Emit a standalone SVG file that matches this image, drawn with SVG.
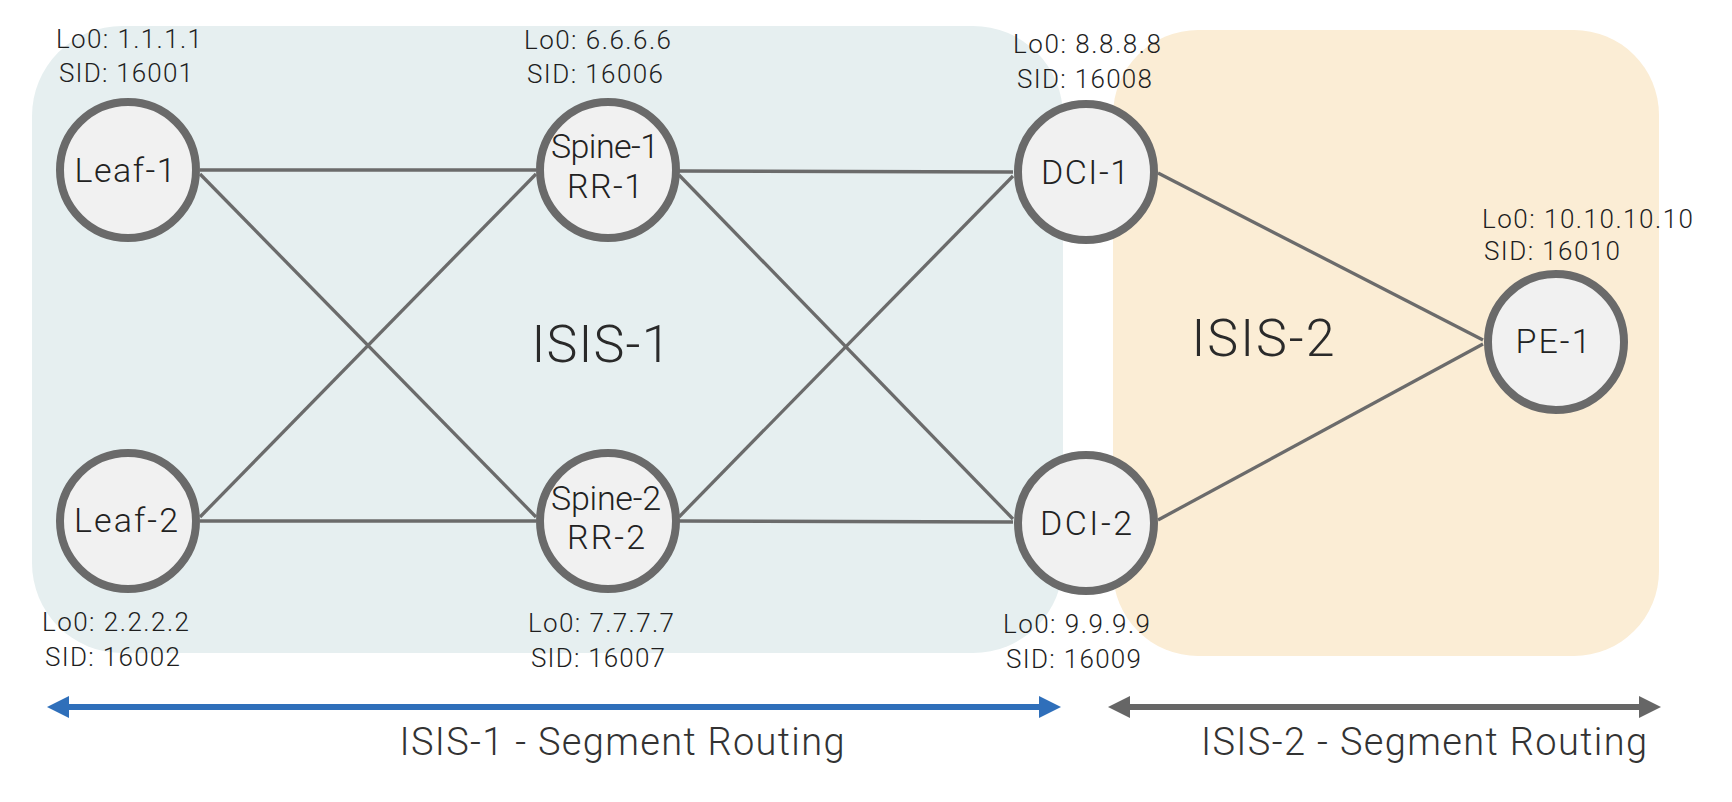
<svg xmlns="http://www.w3.org/2000/svg" width="1732" height="802" viewBox="0 0 1732 802">
<defs>
<style>
.region1{fill:#e6eff0}
.region2{fill:#fbedd5}
.node circle{fill:#f1f1f1;stroke:#6a6a6a;stroke-width:8}
.lbl{font-family:Roboto,"Liberation Sans",Arial,sans-serif;font-weight:300;fill:#222;font-size:34px;text-anchor:middle}
.small{font-family:Roboto,"Liberation Sans",Arial,sans-serif;font-weight:300;fill:#1e1e1e;font-size:26px}
.big{font-family:Roboto,"Liberation Sans",Arial,sans-serif;font-weight:300;fill:#2a2a2a;font-size:52px;text-anchor:middle}
.foot{font-family:Roboto,"Liberation Sans",Arial,sans-serif;font-weight:300;fill:#333;font-size:38px;text-anchor:middle}
.link{stroke:#6b6b6b;stroke-width:3.3;fill:none}
</style>
<marker id="headBlue" markerUnits="userSpaceOnUse" markerWidth="22" markerHeight="22" viewBox="0 0 22 22" refX="0" refY="11" orient="auto-start-reverse"><path d="M0,0 L22,11 L0,22 z" fill="#2f6fba"/></marker>
<marker id="headGray" markerUnits="userSpaceOnUse" markerWidth="22" markerHeight="22" viewBox="0 0 22 22" refX="0" refY="11" orient="auto-start-reverse"><path d="M0,0 L22,11 L0,22 z" fill="#666666"/></marker>
</defs>
<rect width="1732" height="802" fill="#ffffff"/>
<g id="regions">
<rect id="isis1-area" class="region1" x="32" y="26" width="1031" height="627" rx="90" ry="90"/>
<rect id="isis2-area" class="region2" x="1113" y="30" width="546" height="626" rx="85" ry="85"/>
<text class="big" x="601" y="362" textLength="139">ISIS-1</text>
<text class="big" x="1263" y="356" textLength="143">ISIS-2</text>
</g>
<g id="connectors">
<line class="link" x1="200" y1="170" x2="536" y2="170"/>
<line class="link" x1="200" y1="174" x2="536" y2="517"/>
<line class="link" x1="200" y1="517" x2="536" y2="174"/>
<line class="link" x1="200" y1="521" x2="536" y2="521"/>
<line class="link" x1="679" y1="171" x2="1013" y2="172"/>
<line class="link" x1="679" y1="175" x2="1013" y2="519"/>
<line class="link" x1="679" y1="517" x2="1013" y2="176"/>
<line class="link" x1="679" y1="521" x2="1013" y2="522"/>
<line class="link" x1="1158" y1="173" x2="1483" y2="340"/>
<line class="link" x1="1158" y1="520" x2="1483" y2="344"/>
</g>
<g id="leaf1" class="node">
<circle cx="128" cy="170" r="68"/>
<text class="lbl" x="125" y="182" textLength="101">Leaf-1</text>
<text class="small" x="56" y="48" textLength="146">Lo0: 1.1.1.1</text>
<text class="small" x="59" y="82" textLength="134">SID: 16001</text>
</g>
<g id="leaf2" class="node">
<circle cx="128" cy="521" r="68"/>
<text class="lbl" x="126" y="532" textLength="104">Leaf-2</text>
<text class="small" x="42" y="631" textLength="147">Lo0: 2.2.2.2</text>
<text class="small" x="45" y="666" textLength="135">SID: 16002</text>
</g>
<g id="spine1" class="node">
<circle cx="608" cy="170" r="68"/>
<text class="lbl" x="605" y="158" font-size="31" textLength="108">Spine-1</text>
<text class="lbl" x="605" y="198" textLength="76">RR-1</text>
<text class="small" x="524" y="49" textLength="147">Lo0: 6.6.6.6</text>
<text class="small" x="527" y="83" textLength="136">SID: 16006</text>
</g>
<g id="spine2" class="node">
<circle cx="608" cy="521" r="68"/>
<text class="lbl" x="606" y="510" font-size="31" textLength="110">Spine-2</text>
<text class="lbl" x="606" y="549" textLength="78">RR-2</text>
<text class="small" x="528" y="632" textLength="146">Lo0: 7.7.7.7</text>
<text class="small" x="531" y="667" textLength="134">SID: 16007</text>
</g>
<g id="dci1" class="node">
<circle cx="1086" cy="172" r="68"/>
<text class="lbl" x="1085" y="184" textLength="88">DCI-1</text>
<text class="small" x="1013" y="53" textLength="148">Lo0: 8.8.8.8</text>
<text class="small" x="1017" y="88" textLength="135">SID: 16008</text>
</g>
<g id="dci2" class="node">
<circle cx="1086" cy="523" r="68"/>
<text class="lbl" x="1086" y="535" textLength="92">DCI-2</text>
<text class="small" x="1003" y="633" textLength="147">Lo0: 9.9.9.9</text>
<text class="small" x="1006" y="668" textLength="135">SID: 16009</text>
</g>
<g id="pe1" class="node">
<circle cx="1556" cy="342" r="68"/>
<text class="lbl" x="1553" y="353" textLength="75">PE-1</text>
<text class="small" x="1482" y="228" textLength="211">Lo0: 10.10.10.10</text>
<text class="small" x="1484" y="260" textLength="136">SID: 16010</text>
</g>
<g id="scope-arrows">
<line x1="69" y1="707" x2="1039" y2="707" stroke="#2f6fba" stroke-width="6" marker-start="url(#headBlue)" marker-end="url(#headBlue)"/>
<line x1="1130" y1="707" x2="1639" y2="707" stroke="#666666" stroke-width="6" marker-start="url(#headGray)" marker-end="url(#headGray)"/>
<text class="foot" x="622" y="755" textLength="445">ISIS-1 - Segment Routing</text>
<text class="foot" x="1424" y="755" textLength="446">ISIS-2 - Segment Routing</text>
</g>
</svg>
